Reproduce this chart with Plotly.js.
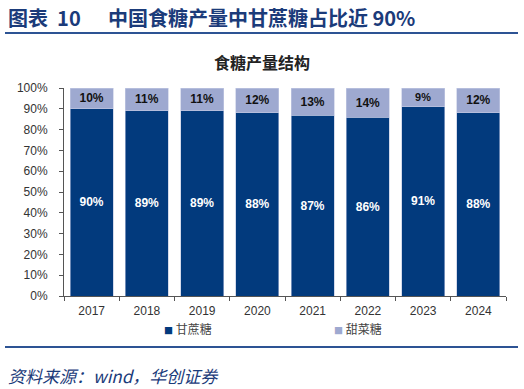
<!DOCTYPE html>
<html><head><meta charset="utf-8">
<script src="https://cdn.plot.ly/plotly-3.0.1.min.js"></script>
<style>html,body{margin:0;padding:0;background:#fff;}#chart{width:524px;height:389px;}</style>
</head><body><div id="chart"></div>
<script>
const years = ['2017','2018','2019','2020','2021','2022','2023','2024'];
const caneShare = [90, 89, 89, 88, 87, 86, 91, 88];
const beetShare = [10, 11, 11, 12, 13, 14, 9, 12];
const seriesNames = ['甘蔗糖', '甜菜糖'];
const yTicks = [0,10,20,30,40,50,60,70,80,90,100];

const caneColor = '#023a7d', beetColor = '#9ea9d0';
const L = 64, R = 506, T = 88, B = 296;
const px = x => (x - L) / (R - L);
const py = y => (B - y) / (B - T);

const traces = [
  {type:'bar', name: seriesNames[0], x: years, y: caneShare,
   marker:{color: caneColor, line:{color:'#b9c2de', width:0.6}},
   text: caneShare.map(v => v + '%'), textposition:'inside', insidetextanchor:'middle',
   textfont:{family:'Liberation Sans, Arial', size:12, color:'#ffffff', weight:'bold'},
   hoverinfo:'skip', cliponaxis:false},
  {type:'bar', name: seriesNames[1], x: years, y: beetShare,
   marker:{color: beetColor, line:{color:'#c5cce4', width:0.6}},
   text: beetShare.map(v => v + '%'), textposition:'inside', insidetextanchor:'middle',
   textfont:{family:'Liberation Sans, Arial', size:12, color:'#111111', weight:'bold'},
   hoverinfo:'skip', cliponaxis:false}
];

const titleColor = '#1b3b7a';
const layout = {
  width:524, height:389, barmode:'stack', bargap:0.22, showlegend:false,
  paper_bgcolor:'#fff', plot_bgcolor:'#fff',
  margin:{l:L, r:524-R, t:T, b:389-B, pad:0},
  xaxis:{type:'category', showline:true, linecolor:'#555', linewidth:1,
    ticks:'outside', ticklen:4, tickcolor:'#555', tickson:'boundaries', ticklabelstandoff:4,
    tickfont:{family:'Liberation Sans, Arial', size:12, color:'#333'}, showgrid:false, fixedrange:true},
  yaxis:{range:[0,100], tickvals:yTicks, ticktext:yTicks.map(v=>v+'%'),
    showline:true, linecolor:'#555', linewidth:1, ticks:'outside', ticklen:4, tickcolor:'#555', ticklabelstandoff:9,
    tickfont:{family:'Liberation Sans, Arial', size:12, color:'#333'}, showgrid:false, zeroline:false, fixedrange:true},
  shapes:[
    {type:'line', xref:'paper', yref:'paper', x0:px(5), x1:px(518), y0:py(33), y1:py(33), line:{color:'#2d5394', width:2}},
    {type:'line', xref:'paper', yref:'paper', x0:px(5), x1:px(518), y0:py(347), y1:py(347), line:{color:'#2d5394', width:2}}
  ],
  annotations:[
    {xref:'paper', yref:'paper', x:px(6), y:py(17), xanchor:'left', yanchor:'middle', showarrow:false,
     text:'<b>图表&nbsp;&nbsp;10&nbsp;&nbsp;&nbsp;&nbsp;&nbsp;&nbsp;中国食糖产量中甘蔗糖占比近&nbsp;90%</b>',
     font:{family:'Noto Sans CJK SC, Liberation Serif', size:20, color:titleColor}},
    {xref:'paper', yref:'paper', x:px(262), y:py(62), xanchor:'center', yanchor:'middle', showarrow:false,
     text:'<b>食糖产量结构</b>', font:{family:'Noto Sans CJK SC', size:16, color:'#222'}},
    {xref:'paper', yref:'paper', x:px(162), y:py(328), xanchor:'left', yanchor:'middle', showarrow:false,
     text:'<span style="color:'+caneColor+';font-size:9px">■</span> '+seriesNames[0],
     font:{family:'Noto Sans CJK SC', size:12, color:'#444'}},
    {xref:'paper', yref:'paper', x:px(332), y:py(328), xanchor:'left', yanchor:'middle', showarrow:false,
     text:'<span style="color:'+beetColor+';font-size:9px">■</span> '+seriesNames[1],
     font:{family:'Noto Sans CJK SC', size:12, color:'#444'}},
    {xref:'paper', yref:'paper', x:px(6), y:py(375), xanchor:'left', yanchor:'middle', showarrow:false,
     text:'<i>资料来源：wind，华创证券</i>',
     font:{family:'Noto Sans CJK SC, Liberation Serif', size:17, color:titleColor}}
  ]
};
Plotly.newPlot('chart', traces, layout, {staticPlot:true, displayModeBar:false});
</script></body></html>
